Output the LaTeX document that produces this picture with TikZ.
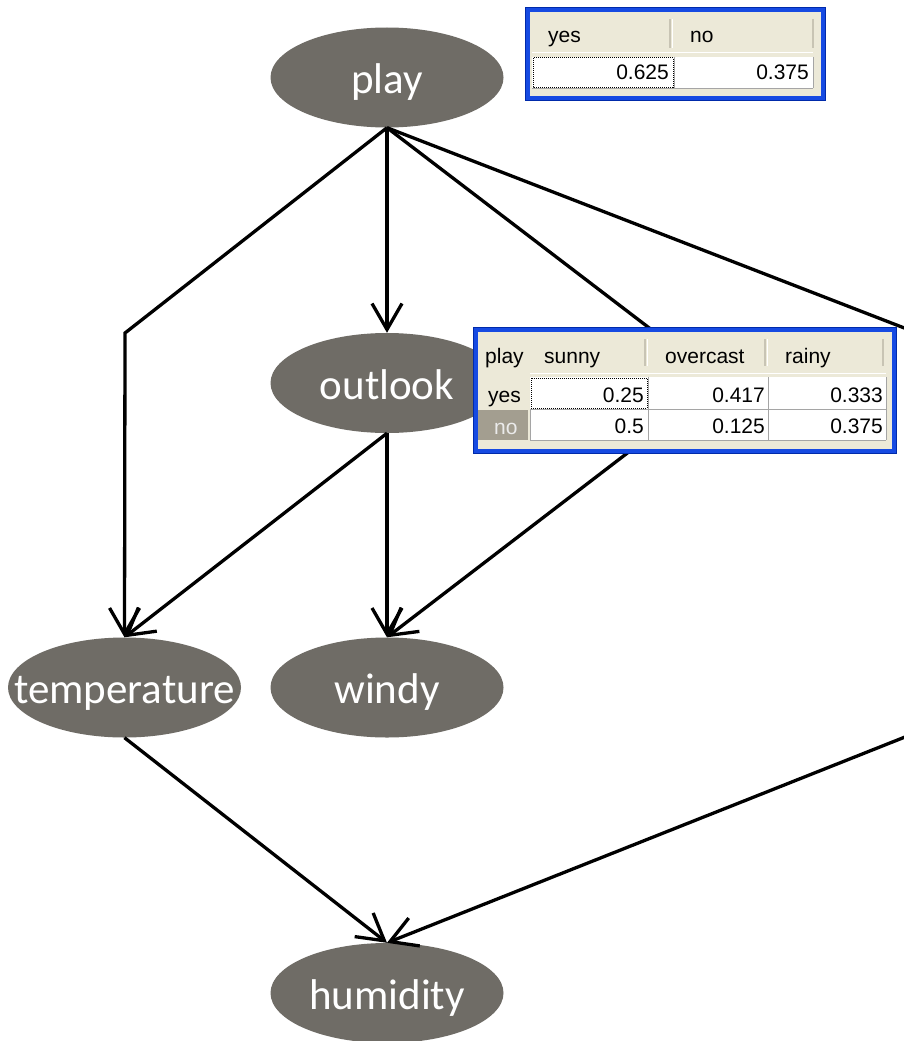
\documentclass[tikz,border=0pt]{standalone}
\usepackage{fontspec}
\setmainfont{Carlito}
\newfontfamily\tblfont{Liberation Sans}
\usetikzlibrary{shapes.geometric,arrows.meta}
\definecolor{nodegray}{RGB}{111,108,102}
\definecolor{beige}{RGB}{236,233,216}
\definecolor{frameblue}{RGB}{22,74,226}
\definecolor{framedark}{RGB}{0,42,170}
\definecolor{gridgray}{RGB}{165,165,165}
\definecolor{sepgray}{RGB}{200,196,180}
\definecolor{rowgray}{RGB}{163,158,144}
\definecolor{rowtext}{RGB}{235,235,235}
\newcommand{\nlab}[1]{\smash{\makebox[0pt]{\raisebox{-16pt}{#1}}}}
\begin{document}
\begin{tikzpicture}[x=1pt,y=-1pt,
  bn/.style={ellipse, fill=nodegray, minimum width=233pt, minimum height=100pt, inner sep=0pt, text=white, font=\fontsize{43}{43}\selectfont},
  edge/.style={line width=3.3pt, -{Straight Barb[length=26pt,width=30pt]}, line join=miter},
  tt/.style={font=\tblfont\fontsize{21}{21}\selectfont, inner sep=0pt, text=black},
  sep/.style={sepgray, line width=1.5pt},
  grid/.style={gridgray, line width=1pt},
  focus/.style={black, line width=1pt, dash pattern=on 1pt off 1pt}
]
\clip (0,0) rectangle (904,1041);
\fill[white] (0,0) rectangle (904,1041);

% nodes
\node[bn] (play) at (387,77.5) {\nlab{play}};
\node[bn] (outlook) at (387,383) {\nlab{outlook}};
\node[bn] (temperature) at (124.5,687.5) {\nlab{temperature}};
\node[bn] (windy) at (387,687.5) {\nlab{windy}};
\node[bn] (humidity) at (387,993) {\nlab{humidity}};

% bend points
\coordinate (bt) at (125,333);
\coordinate (bw) at (720,382);
\coordinate (bh) at (1426,530);

% edges
\draw[edge] (play.south) -- (outlook.north);
\draw[edge] (play.south) -- (bt) -- (temperature.north);
\draw[edge] (play.south) -- (bw) -- (windy.north);
\draw[edge] (play.south) -- (bh) -- (humidity.north);
\draw[edge] (outlook.south) -- (temperature.north);
\draw[edge] (outlook.south) -- (windy.north);
\draw[edge] (temperature.south) -- (humidity.north);

% table 1 (play)
\fill[framedark] (525,7) rectangle (826,101);
\fill[frameblue] (526,8) rectangle (825,100);
\fill[beige] (530,12) rectangle (821,96);
\draw[sep] (670,19) -- (670,48);
\draw[white, line width=1pt] (672,19) -- (672,48);
\draw[sep] (813,19) -- (813,48);
\draw[white, line width=1pt] (532,53) -- (813,53);
\fill[white] (532,57) rectangle (813,88);
\draw[grid] (674,57) -- (674,88);
\draw[grid] (813,57) -- (813,88);
\draw[grid] (532,88) -- (813,88);
\draw[focus] (533,58) rectangle (673,87);
\node[tt, anchor=base west] (t1yes) at (548,43) {yes};
\node[tt, anchor=base west] (t1no) at (690,43) {no};
\node[tt, anchor=base east] (t1a) at (669,80) {0.625};
\node[tt, anchor=base east] (t1b) at (809,80) {0.375};

% table 2 (outlook)
\fill[framedark] (473,327) rectangle (897,454);
\fill[frameblue] (474,328) rectangle (896,453);
\fill[beige] (478,332) rectangle (892,449);
\draw[sep] (645,339) -- (645,366);
\draw[white, line width=1pt] (647,339) -- (647,366);
\draw[sep] (765,339) -- (765,366);
\draw[white, line width=1pt] (767,339) -- (767,366);
\draw[sep] (883,339) -- (883,366);
\draw[white, line width=1pt] (530,373) -- (886,373);
\fill[white] (530,377) rectangle (886,440);
\fill[rowgray] (478,410) rectangle (528,440);
\draw[grid] (648,377) -- (648,440);
\draw[grid] (768,377) -- (768,440);
\draw[grid] (886,377) -- (886,440);
\draw[grid] (530,409) -- (886,409);
\draw[grid] (530,440) -- (886,440);
\draw[grid] (530,409) -- (530,440);
\draw[focus] (531,378) rectangle (647,408);
\node[tt, anchor=base west] (t2play) at (485,363) {play};
\node[tt, anchor=base west] (t2sunny) at (544,363) {sunny};
\node[tt, anchor=base west] (t2over) at (665,363) {overcast};
\node[tt, anchor=base west] (t2rainy) at (785,363) {rainy};
\node[tt, anchor=base west] (t2yes) at (488,402) {yes};
\node[tt, anchor=base west, text=rowtext] (t2no) at (494,434) {no};
\node[tt, anchor=base east] (t2a) at (644,402) {0.25};
\node[tt, anchor=base east] (t2b) at (765,402) {0.417};
\node[tt, anchor=base east] (t2c) at (883,402) {0.333};
\node[tt, anchor=base east] (t2d) at (644,433) {0.5};
\node[tt, anchor=base east] (t2e) at (765,433) {0.125};
\node[tt, anchor=base east] (t2f) at (883,433) {0.375};
\end{tikzpicture}
\end{document}
